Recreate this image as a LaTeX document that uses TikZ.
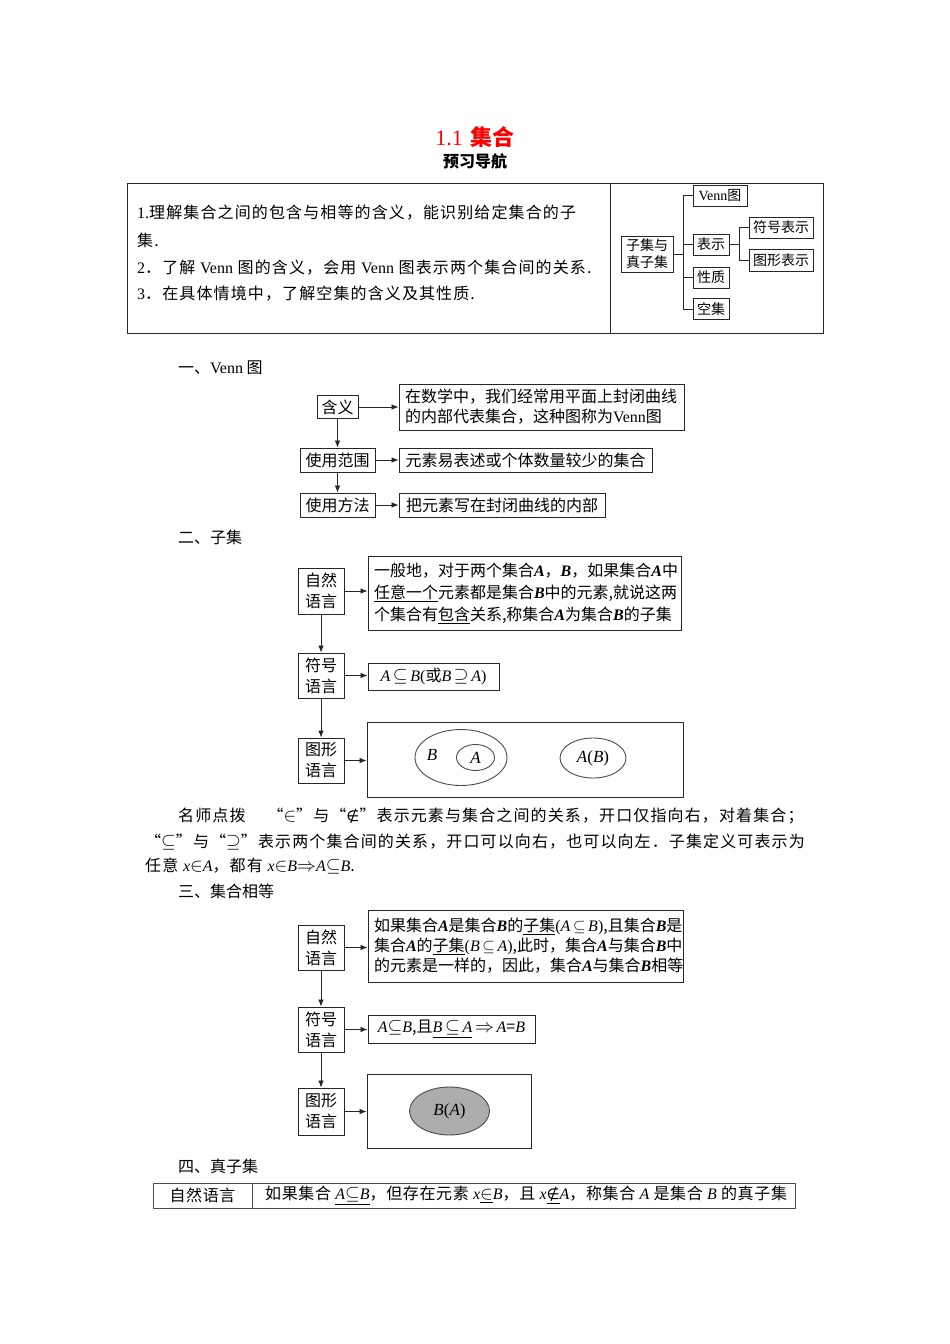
\documentclass[tikz,border=0pt]{standalone}
\usepackage{fix-cm}
\usepackage{fontspec}
\setmainfont{Noto Sans CJK SC}
\newfontfamily\ser{Liberation Serif}
\newfontfamily\djv{DejaVu Sans}
\newfontfamily\cjkw[LetterSpace=7]{Noto Sans CJK SC}
\newfontfamily\cjkm[LetterSpace=4]{Noto Sans CJK SC}
\usetikzlibrary{arrows.meta,shapes.geometric}
\newcommand\vi[1]{{\ser\itshape #1}}
\newcommand\vb[1]{{\ser\itshape\bfseries #1}}
\newcommand\fs[2]{\fontsize{#1}{#2}\selectfont}
\newcommand\sy[1]{{\fontsize{19}{19}\selectfont$#1$}}
\newcommand\nin{{\djv\fontsize{15}{15}\selectfont ∉}}
\tikzset{
  bx/.style={draw=black!85, line width=0.9pt, inner sep=0pt, align=center},
  tbx/.style={draw=black!85, line width=0.9pt, inner ysep=0pt, align=left},
  arr/.style={-{Latex[length=7pt,width=5.5pt]}, line width=0.8pt, black!85},
  ln/.style={line width=0.9pt, black!85},
  ell/.style={line width=0.9pt, black!70},
  txt/.style={anchor=west, inner sep=0pt},
}
\begin{document}
\begin{tikzpicture}[x=1pt,y=-1pt]
\useasboundingbox (0,0) rectangle (950,1344);
\fill[white] (0,0) rectangle (950,1344);

% title
\node[text=red, font=\fs{22}{22}] (title) at (475,137) {{\ser 1.1}\hspace{8pt}\textbf{集合}};
\node[font=\fs{16}{16}\bfseries] (sub) at (475,161) {预习导航};

% top table
\draw[ln] (127,183) rectangle (823,333);
\draw[ln] (610,183) -- (610,333);
\node[txt, font=\fs{16}{16}\cjkw] (g1) at (137,213) {{\ser 1.}理解集合之间的包含与相等的含义，能识别给定集合的子};
\node[txt, font=\fs{16}{16}\cjkw] (g1b) at (137,240) {集.};
\node[txt, font=\fs{16}{16}\cjkw] (g2) at (137,268) {{\ser 2}．了解 {\ser Venn} 图的含义，会用 {\ser Venn} 图表示两个集合间的关系.};
\node[txt, font=\fs{16}{16}\cjkw] (g3) at (137,294) {{\ser 3}．在具体情境中，了解空集的含义及其性质.};

% tree
\begin{scope}[every node/.style={bx, font=\fs{14}{17}}]
\node[minimum width=52, minimum height=36] (zj) at (647,254) {子集与\\真子集};
\node[minimum width=54, minimum height=21] (venn) at (720,195.5) {{\ser Venn}图};
\node[minimum width=36, minimum height=21] (bs) at (711,244.5) {表示};
\node[minimum width=64, minimum height=21] (fh) at (781,227.5) {符号表示};
\node[minimum width=64, minimum height=22] (tx) at (781,260) {图形表示};
\node[minimum width=36, minimum height=21] (xz) at (711,277.5) {性质};
\node[minimum width=36, minimum height=21] (kj) at (711,309) {空集};
\end{scope}
\coordinate (t1) at (683,254);
\coordinate (t2) at (739,244.5);
\draw[ln] (zj.east) -- (t1);
\draw[ln] (venn.west) -- (venn.west -| t1) -- (kj.west -| t1) -- (kj.west);
\draw[ln] (bs.west) -- (bs.west -| t1);
\draw[ln] (xz.west) -- (xz.west -| t1);
\draw[ln] (bs.east) -- (t2);
\draw[ln] (fh.west) -- (fh.west -| t2) -- (tx.west -| t2) -- (tx.west);

% section 1
\node[txt, font=\fs{16}{16}] (h1) at (178,368) {一、{\ser Venn} 图};
\begin{scope}[every node/.style={font=\fs{16}{20}}]
\node[bx, minimum width=41, minimum height=23] (hy) at (337.5,407) {含义};
\node[tbx, inner xsep=6pt, minimum width=285, minimum height=46, text width=273] (hyt) at (541.5,407) {在数学中，我们经常用平面上封闭曲线\\的内部代表集合，这种图称为{\ser Venn}图};
\node[bx, minimum width=75, minimum height=24] (fw) at (337.5,460) {使用范围};
\node[bx, minimum width=253, minimum height=24] (fwt) at (525.5,460) {元素易表述或个体数量较少的集合};
\node[bx, minimum width=75, minimum height=24] (ff) at (337.5,505) {使用方法};
\node[bx, minimum width=206, minimum height=24] (fft) at (502,505) {把元素写在封闭曲线的内部};
\end{scope}
\draw[arr] (hy.east) -- (hy.east -| hyt.west);
\draw[arr] (fw.east) -- (fwt.west);
\draw[arr] (ff.east) -- (fft.west);
\draw[arr] (hy.south) -- (hy.south |- fw.north);
\draw[arr] (fw.south) -- (ff.north);

% section 2
\node[txt, font=\fs{16}{16}] (h2) at (178,537) {二、子集};
\begin{scope}[every node/.style={font=\fs{16}{21}}]
\node[bx, minimum width=46, minimum height=46] (zr1) at (321,591) {自然\\语言};
\node[bx, minimum width=46, minimum height=45] (fh1) at (321,675.5) {符号\\语言};
\node[bx, minimum width=46, minimum height=45] (tx1) at (321,760.5) {图形\\语言};
\node[tbx, font=\fs{16}{22}, inner xsep=6pt, minimum width=313, minimum height=74, text width=301] (zr1t) at (524.5,593) {一般地，对于两个集合\vb{A}，\vb{B}，如果集合\vb{A}中\\\underline{任意一个}元素都是集合\vb{B}中的元素,就说这两\\个集合有\underline{包含}关系,称集合\vb{A}为集合\vb{B}的子集};
\node[bx, minimum width=131, minimum height=27] (fh1t) at (433.5,676.5) {\vi{A}\,\sy{\subseteq}\,\vi{B}{\ser (}或\vi{B}\,\sy{\supseteq}\,\vi{A}{\ser )}};
\node[bx, minimum width=316, minimum height=75] (tx1t) at (525,759.5) {};
\end{scope}
\draw[arr] (zr1.east) -- (zr1.east -| zr1t.west);
\draw[arr] (fh1.east) -- (fh1.east -| fh1t.west);
\draw[arr] (tx1.east) -- (tx1.east -| tx1t.west);
\draw[arr] (zr1.south) -- (fh1.north);
\draw[arr] (fh1.south) -- (tx1.north);
\draw[ell] (461,757.5) ellipse [x radius=46, y radius=28];
\draw[ell] (475.5,757.5) ellipse [x radius=19, y radius=13];
\draw[ell] (593,758) ellipse [x radius=33, y radius=20];
\node[font=\fs{17}{17}] (lB) at (432,755) {\vi{B}};
\node[font=\fs{17}{17}] (lA) at (475.5,757.5) {\vi{A}};
\node[font=\fs{17}{17}] (lAB) at (593,758) {\vi{A}{\ser (}\vi{B}{\ser )}};

% note
\node[txt, font=\fs{16}{16}\cjkw] (n1) at (178,816) {名师点拨\hspace{22pt}“\sy{\in}”与“\nin”表示元素与集合之间的关系，开口仅指向右，对着集合；};
\node[txt, font=\fs{16}{16}\cjkw] (n2) at (145,842) {“\sy{\subseteq}”与“\sy{\supseteq}”表示两个集合间的关系，开口可以向右，也可以向左．子集定义可表示为};
\node[txt, font=\fs{16}{16}\cjkw] (n3) at (145,866) {任意 \vi{x}\sy{\in}\vi{A}，都有 \vi{x}\sy{\in}\vi{B}\sy{\Rightarrow}\vi{A}\sy{\subseteq}\vi{B}.};

% section 3
\node[txt, font=\fs{16}{16}] (h3) at (178,891) {三、集合相等};
\begin{scope}[every node/.style={font=\fs{16}{21}}]
\node[bx, minimum width=46, minimum height=45] (zr2) at (321,947.5) {自然\\语言};
\node[bx, minimum width=46, minimum height=45] (fh2) at (321,1029.5) {符号\\语言};
\node[bx, minimum width=46, minimum height=47] (tx2) at (321,1111.5) {图形\\语言};
\node[tbx, font=\fs{16}{20}, inner xsep=6pt, minimum width=315, minimum height=72, text width=303] (zr2t) at (525.5,946) {如果集合\vb{A}是集合\vb{B}的\underline{子集}{\ser (}\vi{A}\,$\subseteq$\,\vi{B}{\ser )},且集合\vb{B}是\\集合\vb{A}的\underline{子集}{\ser (}\vi{B}\,$\subseteq$\,\vi{A}{\ser )},此时，集合\vb{A}与集合\vb{B}中\\的元素是一样的，因此，集合\vb{A}与集合\vb{B}相等};
\node[bx, minimum width=167, minimum height=28] (fh2t) at (451.5,1029) {\vi{A}\sy{\subseteq}\vi{B},且\underline{\vi{B}\,\sy{\subseteq}\,\vi{A}}\,\sy{\Rightarrow}\,\vi{A}={\vi{B}}};
\node[bx, minimum width=164, minimum height=74] (tx2t) at (449,1111) {};
\end{scope}
\draw[arr] (zr2.east) -- (zr2.east -| zr2t.west);
\draw[arr] (fh2.east) -- (fh2.east -| fh2t.west);
\draw[arr] (tx2.east) -- (tx2.east -| tx2t.west);
\draw[arr] (zr2.south) -- (fh2.north);
\draw[arr] (fh2.south) -- (tx2.north);
\draw[ell, fill=black!32] (449.5,1111) ellipse [x radius=40, y radius=24];
\node[font=\fs{17}{17}] (lBA) at (449.5,1111) {\vi{B}{\ser (}\vi{A}{\ser )}};

% section 4
\node[txt, font=\fs{16}{16}] (h4) at (178,1166) {四、真子集};
\draw[ln, black!70] (153,1183) rectangle (795,1208);
\draw[ln, black!70] (252,1183) -- (252,1208);
\node[font=\fs{16}{16}\cjkm] (zr3) at (202.5,1195.5) {自然语言};
\node[txt, font=\fs{16}{16}\cjkm] (zr3t) at (265,1195.5) {如果集合 \underline{\vi{A}\sy{\subseteq}\vi{B}}，但存在元素 \vi{x}\underline{\sy{\in}}\vi{B}，且 \vi{x}\underline{\nin}\vi{A}，称集合 \vi{A} 是集合 \vi{B} 的真子集};
\end{tikzpicture}
\end{document}
